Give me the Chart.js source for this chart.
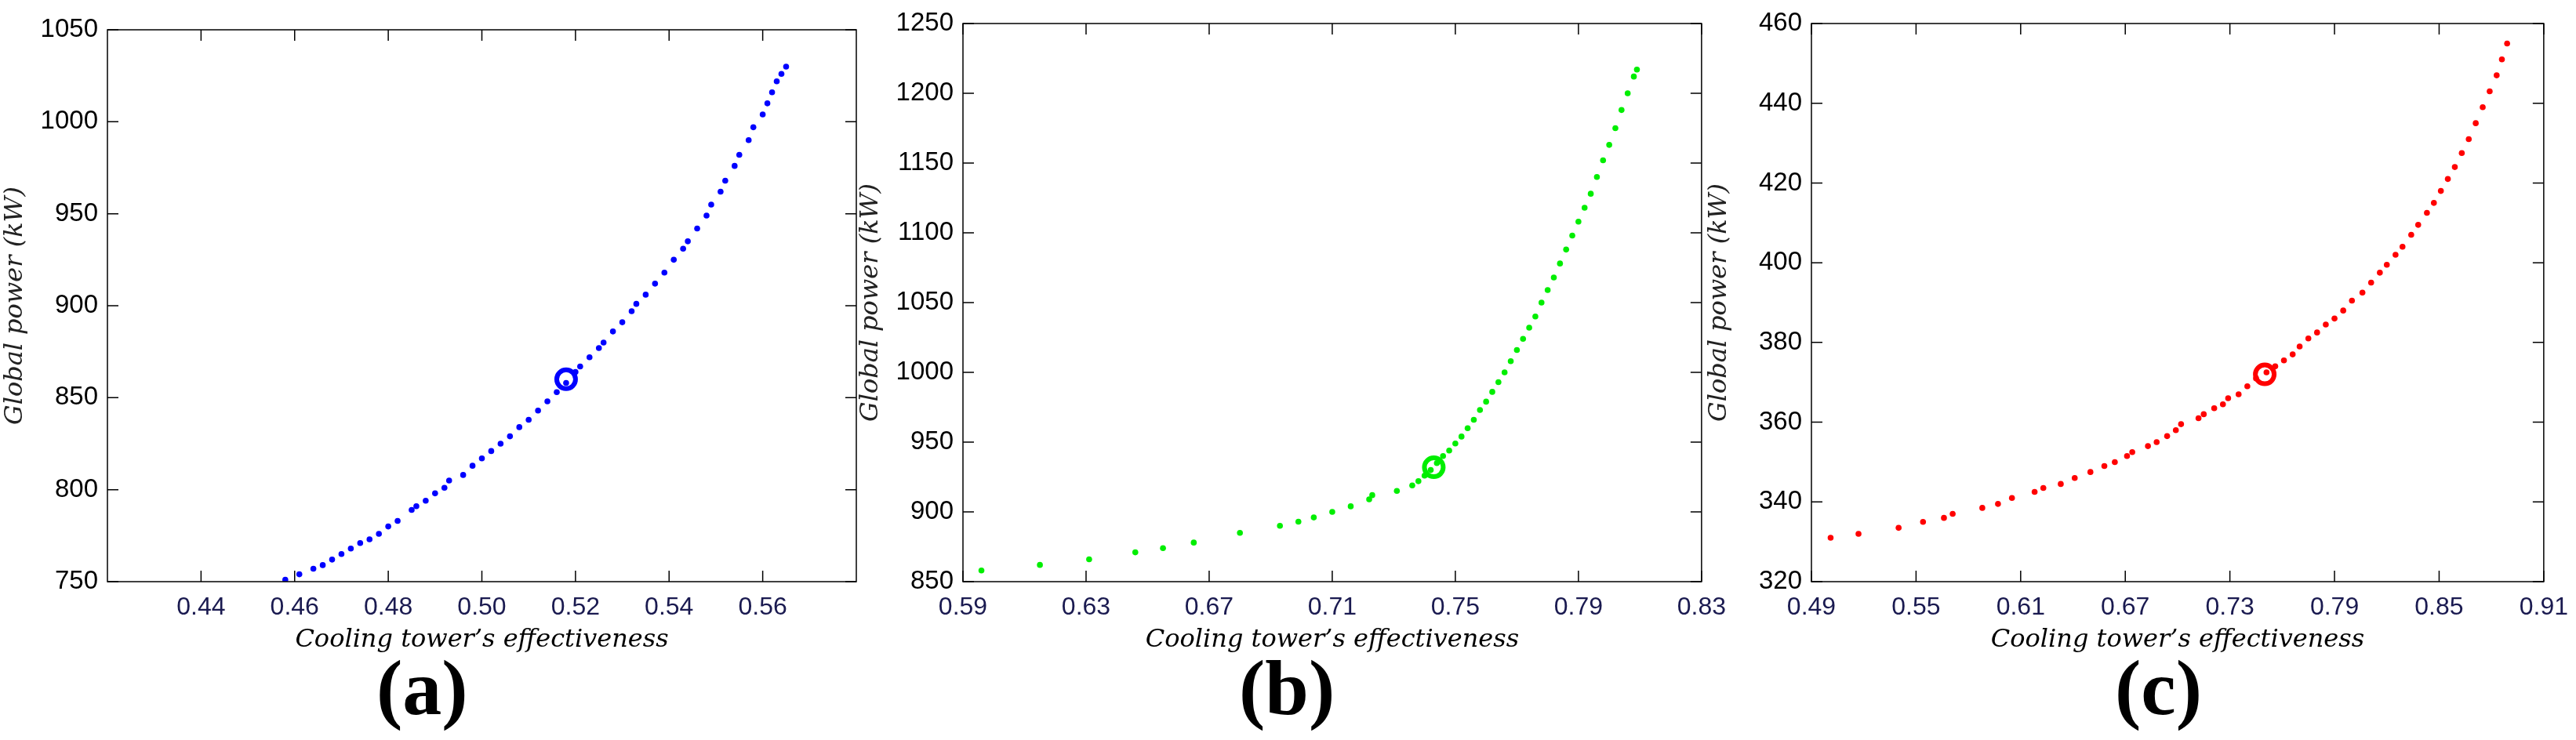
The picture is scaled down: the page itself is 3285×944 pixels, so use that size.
<!DOCTYPE html>
<html>
<head>
<meta charset="utf-8">
<script src="https://cdn.jsdelivr.net/npm/chart.js@4.4.0/dist/chart.umd.min.js"></script>
<style>
  body { margin: 0; background: #fff; width: 3285px; height: 944px; position: relative; overflow: hidden; }
  .box { position: absolute; top: 0; height: 840px; }
  .lab { position: absolute; top: 820px; font: bold 100px "Liberation Serif", serif; color: #000; }
</style>
</head>
<body>
<div class="box" style="left:0;width:1110px"><canvas id="chartA"></canvas></div>
<div class="box" style="left:1091px;width:1116px"><canvas id="chartB"></canvas></div>
<div class="box" style="left:2173px;width:1108px"><canvas id="chartC"></canvas></div>
<div class="lab" style="left:480px">(a)</div>
<div class="lab" style="left:1580px">(b)</div>
<div class="lab" style="left:2697px">(c)</div>
<script>
const effA = [0.458,0.461,0.464,0.466,0.468,0.470,0.472,0.474,0.476,0.478,0.480,0.482,0.485,0.486,0.488,0.490,0.492,0.493,0.496,0.498,0.500,0.502,0.504,0.506,0.508,0.510,0.512,0.514,0.516,0.518,0.520,0.521,0.523,0.525,0.526,0.528,0.530,0.532,0.533,0.535,0.537,0.539,0.541,0.543,0.544,0.546,0.548,0.549,0.551,0.552,0.554,0.555,0.557,0.558,0.560,0.561,0.562,0.563,0.564,0.565];
const powA = [751,754,757,759,762,765,768,771,773,776,780,783,789,791,794,798,801,805,808,813,817,821,825,829,834,838,843,848,853,858,864,867,872,877,880,886,891,897,901,906,912,918,925,931,935,942,949,955,962,968,976,982,990,997,1004,1010,1016,1022,1026,1030];
const optA = [0.518, 860];

const effB = [0.596,0.615,0.631,0.646,0.655,0.665,0.680,0.693,0.699,0.704,0.710,0.716,0.722,0.723,0.731,0.736,0.738,0.740,0.742,0.744,0.746,0.748,0.750,0.752,0.754,0.756,0.758,0.760,0.762,0.764,0.766,0.768,0.770,0.772,0.774,0.776,0.778,0.780,0.782,0.784,0.786,0.788,0.790,0.792,0.794,0.796,0.798,0.800,0.802,0.804,0.806,0.808,0.809];
const powB = [858,862,866,871,874,878,885,890,893,896,900,904,909,912,915,919,922,926,930,935,940,944,949,954,960,966,973,979,986,993,1000,1008,1016,1024,1032,1040,1050,1059,1068,1078,1088,1098,1108,1118,1128,1140,1152,1163,1175,1188,1200,1212,1217];
const optB = [0.743, 932];

const effC = [0.501,0.517,0.540,0.554,0.566,0.571,0.588,0.597,0.605,0.618,0.623,0.633,0.641,0.650,0.658,0.664,0.671,0.674,0.683,0.688,0.694,0.699,0.702,0.712,0.715,0.721,0.726,0.729,0.735,0.740,0.745,0.751,0.756,0.761,0.766,0.770,0.775,0.780,0.785,0.790,0.795,0.800,0.806,0.811,0.816,0.820,0.825,0.829,0.834,0.838,0.843,0.847,0.851,0.855,0.859,0.863,0.867,0.871,0.875,0.879,0.883,0.886,0.889];
const powC = [331,332,333.5,335,336,337,338.5,339.5,341,342.5,343.5,344.5,346,347.5,349,350,351.5,352.5,354,355,356.5,358,359.5,361,362,363.5,364.5,366,367,369,371,372.5,374,375.5,377,379,381,382.5,384.5,386,388,390.5,392.5,395,397.5,399.5,402,404,407,409.5,412.5,415,418,421,424,427.5,431,435,439,443,447,451,455];
const optC = [0.750, 372];

const xTitle = "Cooling tower\u2019s effectiveness";
const yTitle = "Global power (kW)";

// inward ticks on all four sides plus frame
const frame = {
  id: 'frame',
  afterDraw(chart) {
    const { ctx, chartArea: a, scales: { x, y } } = chart;
    ctx.save();
    ctx.strokeStyle = '#000';
    ctx.lineWidth = 1.5;
    ctx.strokeRect(a.left, a.top, a.right - a.left, a.bottom - a.top);
    const L = 14;
    ctx.beginPath();
    x.ticks.forEach(t => {
      const px = x.getPixelForValue(t.value);
      ctx.moveTo(px, a.bottom); ctx.lineTo(px, a.bottom - L);
      ctx.moveTo(px, a.top); ctx.lineTo(px, a.top + L);
    });
    y.ticks.forEach(t => {
      const py = y.getPixelForValue(t.value);
      ctx.moveTo(a.left, py); ctx.lineTo(a.left + L, py);
      ctx.moveTo(a.right, py); ctx.lineTo(a.right - L, py);
    });
    ctx.stroke();
    ctx.restore();
  }
};

function makeChart(id, xs, ys, opt, color, xr, yr, keepEnds, pad) {
  const pts = xs.map((v, i) => ({ x: v, y: ys[i] }));
  new Chart(id, {
    type: 'scatter',
    data: {
      datasets: [
        { data: [{ x: opt[0], y: opt[1] }], pointRadius: 12, pointBorderWidth: 6, pointBorderColor: color, pointBackgroundColor: 'rgba(0,0,0,0)' },
        { data: pts, pointRadius: 3.8, pointBorderWidth: 0, pointBackgroundColor: color }
      ]
    },
    options: {
      responsive: true,
      maintainAspectRatio: false,
      animation: false,
      layout: { padding: pad },
      plugins: { legend: { display: false }, tooltip: { enabled: false } },
      scales: {
        x: {
          type: 'linear', min: xr[0], max: xr[1],
          ticks: { stepSize: xr[2], color: '#1a1a50', font: { family: 'Liberation Sans', size: 32 }, padding: 6,
                   callback: v => v.toFixed(2) },
          afterBuildTicks: s => { if (!keepEnds) s.ticks = s.ticks.filter(t => t.value > xr[0] + 1e-9 && t.value < xr[1] - 1e-9); },
          grid: { display: false },
          border: { display: false },
          title: { display: true, text: xTitle, color: '#000', font: { family: 'DejaVu Serif', style: 'italic', size: 32 }, padding: { top: 2 } },
          afterFit: s => { s.height = 98; }
        },
        y: {
          type: 'linear', min: yr[0], max: yr[1],
          ticks: { stepSize: yr[2], color: '#000', font: { family: 'Liberation Sans', size: 33 }, padding: 4,
                   callback: v => String(v) },
          grid: { display: false },
          border: { display: false },
          title: { display: true, text: yTitle, color: '#222', font: { family: 'DejaVu Serif', style: 'italic', size: 32 }, padding: 0 },
          afterFit: s => { s.width = pad.yw; }
        }
      }
    },
    plugins: [frame]
  });
}

makeChart('chartA', effA, powA, optA, '#0000ff', [0.42, 0.58, 0.02], [750, 1050, 50], false, { top: 38, right: 11, left: 0, bottom: 0, yw: 137 });
makeChart('chartB', effB, powB, optB, '#00ee00', [0.59, 0.83, 0.04], [850, 1250, 50], true, { top: 30, right: 11, left: 0, bottom: 0, yw: 137 });
makeChart('chartC', effC, powC, optC, '#ff0000', [0.49, 0.91, 0.06], [320, 460, 20], true, { top: 30, right: 11, left: 0, bottom: 0, yw: 137 });
</script>
</body>
</html>
